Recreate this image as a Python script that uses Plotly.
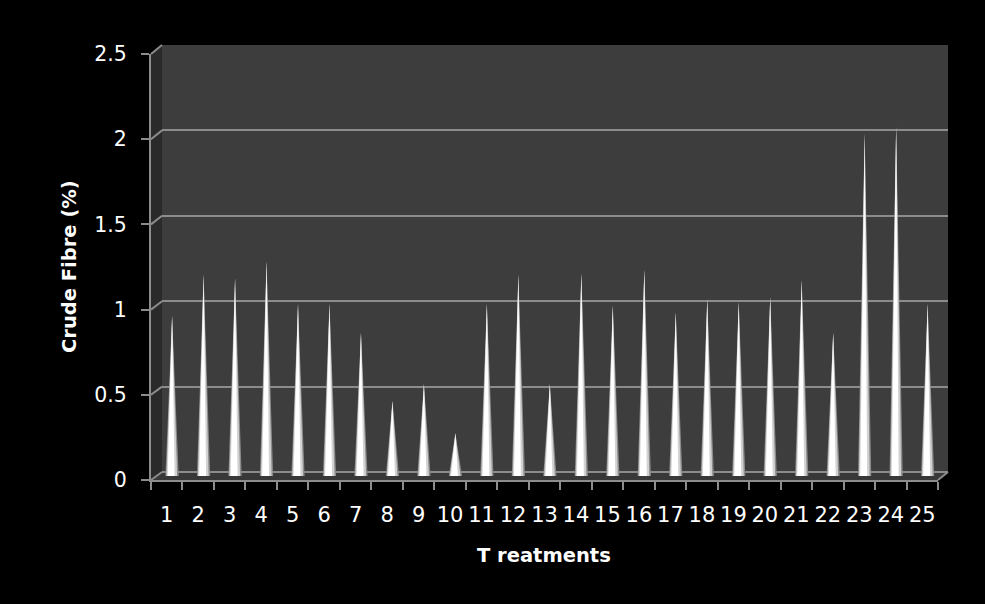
import plotly.graph_objects as go

# ---------------- data ----------------
treatments = [str(i) for i in range(1, 26)]
crude_fibre = [0.94, 1.18, 1.16, 1.26, 1.01, 1.01, 0.84, 0.44, 0.54, 0.25,
               1.01, 1.18, 0.54, 1.19, 1.00, 1.21, 0.96, 1.04, 1.02, 1.05,
               1.15, 0.84, 2.01, 2.05, 1.01]
y_ticks = [0, 0.5, 1, 1.5, 2, 2.5]
y_tick_labels = ["0", "0.5", "1", "1.5", "2", "2.5"]

# ---------------- geometry (pixels) ----------------
W, H = 985, 604
FRONT_L, FRONT_R, FRONT_B, FRONT_T = 151, 938, 480, 54
BACK_L, BACK_R, BACK_B, BACK_T = 162, 948, 472, 45
DX, DY = 0.17, 0.024          # depth offset of cone centre (category units / value units)

def px(x):
    return x / W

def py(y):
    return 1 - y / H

GRID = "#8c8c8c"
FONT = "DejaVu Sans"
n = len(treatments)
xs = list(range(1, n + 1))

fig = go.Figure()

# invisible trace so the back-wall subplot exists
fig.add_trace(go.Scatter(x=[1], y=[0], mode="markers", marker=dict(opacity=0),
                         hoverinfo="skip", showlegend=False, xaxis="x", yaxis="y"))

# cones: layered triangles for shading
layers = [(0.21, 0.0, "#8c8c8c"), (0.17, -0.01, "#d2d2d2"), (0.11, -0.03, "#ffffff")]
for hw, sh, col in layers:
    cx, cy = [], []
    for xi, v in zip(xs, crude_fibre):
        c = xi + DX
        cx += [c - hw + sh, c + hw + sh, c, c - hw + sh, None]
        cy += [DY, DY, v + DY, DY, None]
    fig.add_trace(go.Scatter(x=cx, y=cy, mode="lines", fill="toself", fillcolor=col,
                             line=dict(width=0, color=col), hoverinfo="skip",
                             showlegend=False, xaxis="x2", yaxis="y2"))

shapes = []
# back wall
shapes.append(dict(type="rect", xref="paper", yref="paper", layer="below",
                   x0=px(BACK_L), x1=px(BACK_R), y0=py(BACK_B), y1=py(BACK_T),
                   fillcolor="#3d3d3d", line=dict(width=0)))
# side wall
shapes.append(dict(type="path", xref="paper", yref="paper", layer="below",
                   path=f"M {px(FRONT_L)} {py(FRONT_T)} L {px(BACK_L)} {py(BACK_T)} "
                        f"L {px(BACK_L)} {py(BACK_B)} L {px(FRONT_L)} {py(FRONT_B)} Z",
                   fillcolor="#2a2a2a", line=dict(width=0)))
# floor
shapes.append(dict(type="path", xref="paper", yref="paper", layer="below",
                   path=f"M {px(FRONT_L)} {py(FRONT_B)} L {px(FRONT_R)} {py(FRONT_B)} "
                        f"L {px(BACK_R)} {py(BACK_B)} L {px(BACK_L)} {py(BACK_B)} Z",
                   fillcolor="#383838", line=dict(width=0)))
# floor right edge
shapes.append(dict(type="line", xref="paper", yref="paper", layer="below",
                   x0=px(FRONT_R), y0=py(FRONT_B), x1=px(BACK_R), y1=py(BACK_B),
                   line=dict(color=GRID, width=2)))
# diagonal gridline segments on the side wall
for v in y_ticks:
    yf = FRONT_B - v / 2.5 * (FRONT_B - FRONT_T)
    yb = BACK_B - v / 2.5 * (BACK_B - BACK_T)
    shapes.append(dict(type="line", xref="paper", yref="paper", layer="below",
                       x0=px(FRONT_L), y0=py(yf), x1=px(BACK_L), y1=py(yb),
                       line=dict(color=GRID, width=2)))

fig.update_layout(
    width=W, height=H,
    margin=dict(l=0, r=0, t=0, b=0, pad=0, autoexpand=False),
    paper_bgcolor="black",
    plot_bgcolor="rgba(0,0,0,0)",
    showlegend=False,
    shapes=shapes,
    xaxis=dict(domain=[px(BACK_L), px(BACK_R)], range=[0.5, n + 0.5],
               showgrid=False, zeroline=False, showticklabels=False, ticks="",
               anchor="y", fixedrange=True, automargin=False),
    yaxis=dict(domain=[py(BACK_B), py(BACK_T)], range=[0, 2.5],
               tickvals=y_ticks, showgrid=True, gridcolor=GRID, gridwidth=2,
               zeroline=True, zerolinecolor=GRID, zerolinewidth=2,
               showticklabels=False, ticks="", anchor="x", fixedrange=True,
               automargin=False),
    xaxis2=dict(domain=[px(FRONT_L), px(FRONT_R)], range=[0.5, n + 0.5],
                anchor="y2", showgrid=False, zeroline=False,
                showline=True, linecolor=GRID, linewidth=2,
                tickvals=xs, ticktext=treatments, ticks="",
                tickfont=dict(family=FONT, size=21, color="white"),
                ticklabelstandoff=15,
                minor=dict(tickvals=[x - 0.5 for x in xs] + [n + 0.5],
                           ticks="outside", ticklen=8, tickwidth=2, tickcolor=GRID,
                           showgrid=False),
                fixedrange=True, automargin=False),
    yaxis2=dict(domain=[py(FRONT_B), py(FRONT_T)], range=[0, 2.5],
                anchor="x2", showgrid=False, zeroline=False,
                showline=True, linecolor=GRID, linewidth=2,
                tickvals=y_ticks, ticktext=y_tick_labels,
                ticks="outside", ticklen=8, tickwidth=2, tickcolor=GRID,
                tickfont=dict(family=FONT, size=20.5, color="white"),
                ticklabelstandoff=10,
                fixedrange=True, automargin=False),
    annotations=[
        dict(text="<b>T reatments</b>", xref="paper", yref="paper",
             x=px(544), y=py(555), showarrow=False,
             font=dict(family=FONT, size=19.5, color="white"),
             xanchor="center", yanchor="middle"),
        dict(text="<b>Crude Fibre (%)</b>", xref="paper", yref="paper",
             x=px(69), y=py(267), showarrow=False, textangle=-90,
             font=dict(family=FONT, size=19.5, color="white"),
             xanchor="center", yanchor="middle"),
    ],
)

fig.write_html("out.html")
